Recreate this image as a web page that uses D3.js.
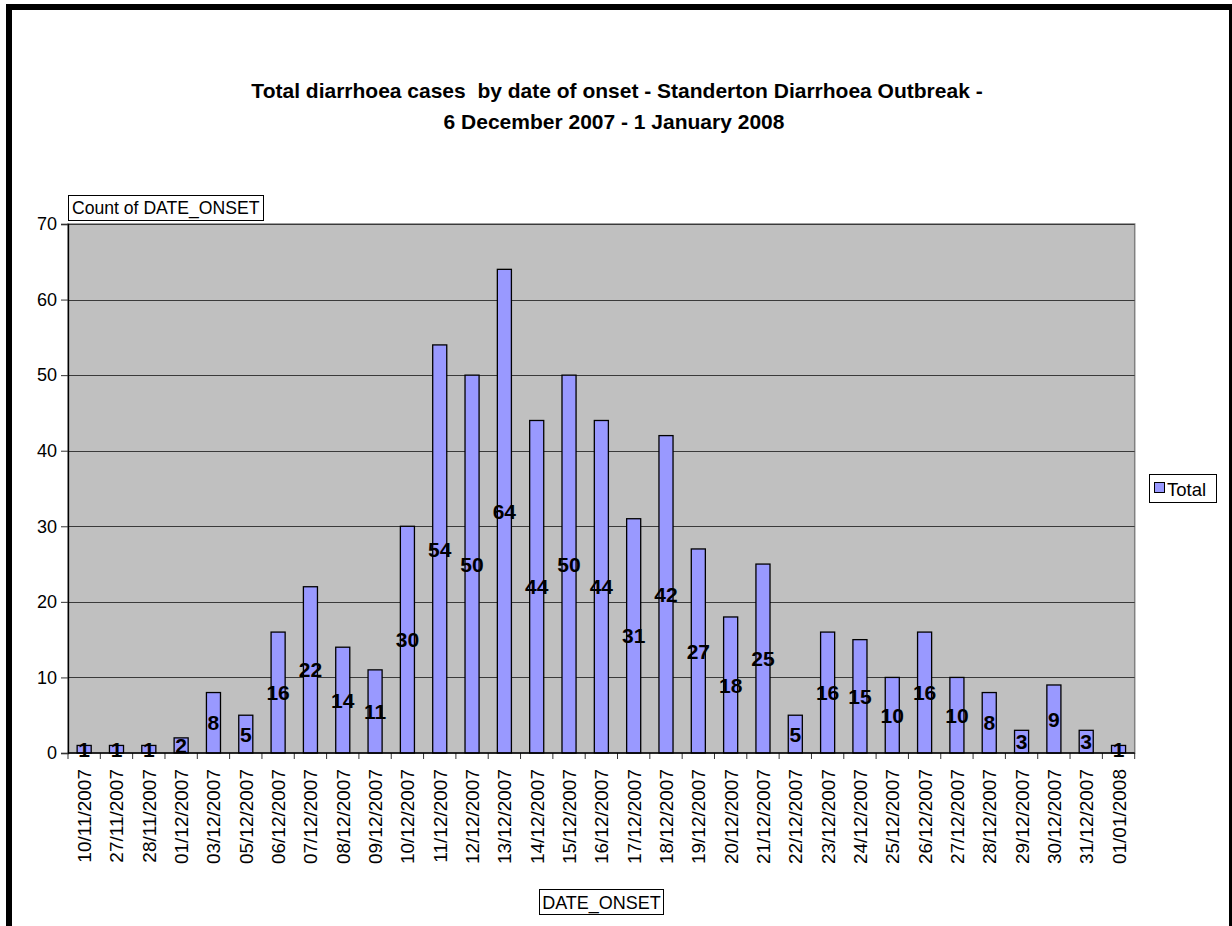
<!DOCTYPE html>
<html>
<head>
<meta charset="utf-8">
<script src="https://cdn.jsdelivr.net/npm/d3@7"></script>
<style>
  html, body { margin: 0; padding: 0; background: #fff; }
  svg { display: block; font-family: Arial, "Liberation Sans", sans-serif; }
  text { white-space: pre; }
</style>
</head>
<body>
<svg id="chart" width="1232" height="926"></svg>
<script>
// Onset dates (category axis) and daily case counts
const onsetDates = [
  "10/11/2007", "27/11/2007", "28/11/2007", "01/12/2007", "03/12/2007", "05/12/2007",
  "06/12/2007", "07/12/2007", "08/12/2007", "09/12/2007", "10/12/2007", "11/12/2007",
  "12/12/2007", "13/12/2007", "14/12/2007", "15/12/2007", "16/12/2007", "17/12/2007",
  "18/12/2007", "19/12/2007", "20/12/2007", "21/12/2007", "22/12/2007", "23/12/2007",
  "24/12/2007", "25/12/2007", "26/12/2007", "27/12/2007", "28/12/2007", "29/12/2007",
  "30/12/2007", "31/12/2007", "01/01/2008"
];
const caseCounts = [
  1, 1, 1, 2, 8, 5,
  16, 22, 14, 11, 30, 54,
  50, 64, 44, 50, 44, 31,
  42, 27, 18, 25, 5, 16,
  15, 10, 16, 10, 8, 3,
  9, 3, 1
];
const yTicks = [0, 10, 20, 30, 40, 50, 60, 70];
const titleLines = [
  "Total diarrhoea cases  by date of onset - Standerton Diarrhoea Outbreak -",
  "6 December 2007 - 1 January 2008"
];
const seriesName = "Total";

const data = onsetDates.map((d, i) => ({ date: d, value: caseCounts[i] }));

const svg = d3.select("#chart");
const plot = { left: 68, right: 1134.7, top: 224, bottom: 753 };

// Outer chart frame
svg.append("rect")
  .attr("x", 9).attr("y", 7)
  .attr("width", 1223).attr("height", 1000)
  .attr("fill", "#fff")
  .attr("stroke", "#000").attr("stroke-width", 6);

// Title
svg.append("text")
  .attr("text-anchor", "middle")
  .attr("font-weight", "bold")
  .attr("font-size", 21)
  .attr("xml:space", "preserve")
  .selectAll("tspan").data(titleLines).join("tspan")
  .attr("x", (d, i) => i === 0 ? 617 : 614)
  .attr("y", (d, i) => 97.5 + i * 31)
  .text(d => d);

const x = d3.scaleBand()
  .domain(onsetDates)
  .range([plot.left, plot.right])
  .paddingInner(0.565)
  .paddingOuter(0.2825);

const xCat = d3.scaleBand()
  .domain(onsetDates)
  .range([plot.left, plot.right]);

const y = d3.scaleLinear()
  .domain([0, 70])
  .range([plot.bottom, plot.top]);

// Plot area background
svg.append("rect")
  .attr("x", plot.left).attr("y", plot.top)
  .attr("width", plot.right - plot.left)
  .attr("height", plot.bottom - plot.top)
  .attr("fill", "#c0c0c0")
  .attr("stroke", "#808080").attr("stroke-width", 1.5);

// Horizontal gridlines
svg.append("g")
  .selectAll("line").data(yTicks.filter(t => t > 0)).join("line")
  .attr("x1", plot.left).attr("x2", plot.right)
  .attr("y1", d => Math.round(y(d)) + 0.5)
  .attr("y2", d => Math.round(y(d)) + 0.5)
  .attr("stroke", "#3a3a3a").attr("stroke-width", 1);

// Bars
svg.append("g")
  .selectAll("rect").data(data).join("rect")
  .attr("x", d => x(d.date))
  .attr("y", d => y(d.value))
  .attr("width", x.bandwidth())
  .attr("height", d => y(0) - y(d.value))
  .attr("fill", "#9999ff")
  .attr("stroke", "#000").attr("stroke-width", 1.3);

// Y axis
const yAxis = svg.append("g")
  .attr("transform", `translate(${plot.left},0)`)
  .call(d3.axisLeft(y).tickValues(yTicks).tickSize(7).tickPadding(4).tickFormat(d3.format("d")));
yAxis.select(".domain").attr("stroke", "#000").attr("stroke-width", 1.3);
yAxis.selectAll(".tick line").attr("stroke", "#333");
yAxis.selectAll(".tick text")
  .attr("font-size", 18).attr("fill", "#000")
  .attr("font-family", "Arial, 'Liberation Sans', sans-serif");

// X axis: tick marks at category boundaries
const boundaries = onsetDates.map(d => xCat(d)).concat([plot.right]);
svg.append("g")
  .selectAll("line").data(boundaries).join("line")
  .attr("x1", d => d).attr("x2", d => d)
  .attr("y1", plot.bottom).attr("y2", plot.bottom + 6)
  .attr("stroke", "#333").attr("stroke-width", 1);
svg.append("line")
  .attr("x1", plot.left).attr("x2", plot.right)
  .attr("y1", plot.bottom).attr("y2", plot.bottom)
  .attr("stroke", "#000").attr("stroke-width", 1.3);

// X tick labels, rotated
svg.append("g")
  .selectAll("text").data(onsetDates).join("text")
  .attr("transform", d => `translate(${xCat(d) + xCat.bandwidth() / 2 + 7},${plot.bottom + 16}) rotate(-90)`)
  .attr("text-anchor", "end")
  .attr("font-size", 19)
  .text(d => d);

// Data labels, centred in each bar
svg.append("g")
  .selectAll("text").data(data).join("text")
  .attr("x", d => x(d.date) + x.bandwidth() / 2)
  .attr("y", d => (y(d.value) + y(0)) / 2)
  .attr("dy", "0.36em")
  .attr("text-anchor", "middle")
  .attr("font-weight", "bold")
  .attr("font-size", 21)
  .text(d => d.value);

// Value field button
const countBox = svg.append("g");
countBox.append("rect")
  .attr("x", 68.5).attr("y", 195.5).attr("width", 195).attr("height", 25)
  .attr("fill", "#fff").attr("stroke", "#000").attr("stroke-width", 1);
countBox.append("text")
  .attr("x", 72).attr("y", 214)
  .attr("font-size", 17.6)
  .text("Count of DATE_ONSET");

// Category field button
const dateBox = svg.append("g");
dateBox.append("rect")
  .attr("x", 539.5).attr("y", 889.5).attr("width", 124).attr("height", 25)
  .attr("fill", "#fff").attr("stroke", "#000").attr("stroke-width", 1);
dateBox.append("text")
  .attr("x", 601.5).attr("y", 908.5)
  .attr("text-anchor", "middle")
  .attr("font-size", 18)
  .text("DATE_ONSET");

// Legend
const legend = svg.append("g");
legend.append("rect")
  .attr("x", 1149.5).attr("y", 474.5).attr("width", 67).attr("height", 28)
  .attr("fill", "#fff").attr("stroke", "#000").attr("stroke-width", 1);
legend.append("rect")
  .attr("x", 1154.5).attr("y", 482.5).attr("width", 10).attr("height", 10)
  .attr("fill", "#9999ff").attr("stroke", "#000").attr("stroke-width", 1);
legend.append("text")
  .attr("x", 1167).attr("y", 495.5)
  .attr("font-size", 18.5)
  .text(seriesName);
</script>
</body>
</html>
